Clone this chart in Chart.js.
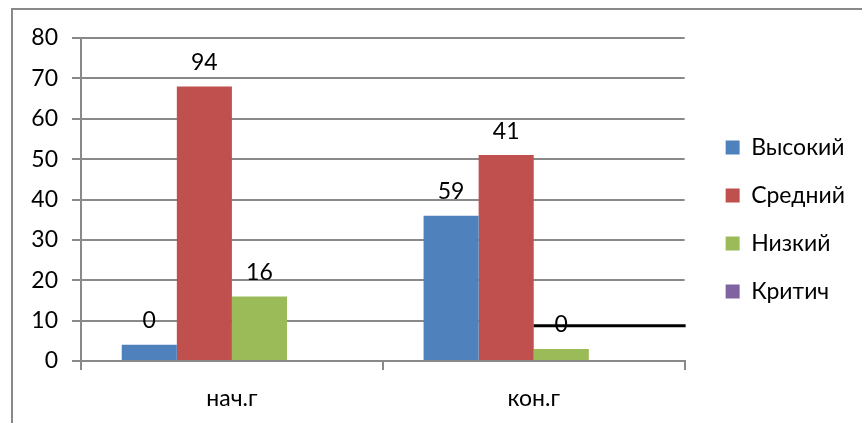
<!DOCTYPE html>
<html><head><meta charset="utf-8">
<script src="https://cdn.jsdelivr.net/npm/chart.js@4/dist/chart.umd.min.js"></script>
<style>html,body{margin:0;padding:0;background:#fff}#wrap{position:relative;width:862px;height:423px}canvas{display:block}</style>
</head><body><div id="wrap"><canvas id="c" width="862" height="423"></canvas></div>
<script>
// ---- data ----
const categories = ['нач.г', 'кон.г'];
const seriesNames = ['Высокий', 'Средний', 'Низкий', 'Критич'];
const highValues = [4, 36];
const midValues = [68, 51];
const lowValues = [16, 3];
const critValues = [0, 0];
const highLabels = ['0', '59'];
const midLabels = ['94', '41'];
const lowLabels = ['16', '0'];
const critLabels = ['', ''];
const yMin = 0, yMax = 80, yStep = 10;
const markerLineValue = 8.7;

const colors = ['#4F81BD', '#C0504D', '#9BBB59', '#8064A2'];
const valueSets = [highValues, midValues, lowValues, critValues];
const labelSets = [highLabels, midLabels, lowLabels, critLabels];
const FONT = 'Lato, "Open Sans", sans-serif';
const FS = 23;
const GRID = '#898989';

const framePlugin = {
  id: 'frame',
  beforeDraw(chart) {
    const ctx = chart.ctx;
    ctx.save();
    ctx.fillStyle = '#fff';
    ctx.fillRect(0, 0, chart.width, chart.height);
    ctx.strokeStyle = GRID;
    ctx.lineWidth = 2;
    ctx.beginPath();
    ctx.moveTo(12, chart.height + 2);
    ctx.lineTo(12, 9);
    ctx.lineTo(chart.width + 2, 9);
    ctx.stroke();
    ctx.restore();
  }
};

const legendShift = {
  id: 'legendShift',
  afterLayout(chart) {
    const lg = chart.legend;
    if (!lg) return;
    const dx = 16, dy = -11;
    lg.left += dx; lg.right += dx; lg.top += dy; lg.bottom += dy;
  }
};

const labelPlugin = {
  id: 'barLabels',
  afterDatasetsDraw(chart) {
    const ctx = chart.ctx;
    const y = chart.scales.y;
    const area = chart.chartArea;
    const redBar = chart.getDatasetMeta(1).data[1];
    const x0 = redBar.x + redBar.width / 2;
    ctx.save();
    const yg = Math.round(y.getPixelForValue(10));
    ctx.strokeStyle = '#fff';
    ctx.lineWidth = 3;
    ctx.beginPath(); ctx.moveTo(x0, yg); ctx.lineTo(area.right + 2, yg); ctx.stroke();
    const ym = y.getPixelForValue(markerLineValue);
    ctx.strokeStyle = '#000';
    ctx.lineWidth = 3;
    ctx.beginPath(); ctx.moveTo(x0, ym); ctx.lineTo(area.right + 1, ym); ctx.stroke();

    ctx.fillStyle = '#000';
    ctx.font = FS + 'px ' + FONT;
    ctx.textAlign = 'center';
    ctx.textBaseline = 'middle';
    chart.data.datasets.forEach((ds, i) => {
      const meta = chart.getDatasetMeta(i);
      meta.data.forEach((bar, j) => {
        const t = labelSets[i][j];
        if (t) ctx.fillText(t, bar.x, bar.y - 24);
      });
    });
    ctx.restore();
  }
};

new Chart(document.getElementById('c'), {
  type: 'bar',
  data: {
    labels: categories,
    datasets: seriesNames.map((n, i) => ({
      label: n,
      data: valueSets[i],
      backgroundColor: colors[i],
      borderWidth: 0,
      categoryPercentage: 0.73,
      barPercentage: 1.0
    }))
  },
  options: {
    responsive: false,
    animation: false,
    devicePixelRatio: 1,
    layout: { padding: { top: 38, bottom: 0, left: 0, right: 23 } },
    plugins: {
      tooltip: { enabled: false },
      legend: {
        position: 'right',
        labels: {
          boxWidth: 14, boxHeight: 14, padding: 25,
          color: '#000',
          font: { family: FONT, size: FS }
        }
      }
    },
    scales: {
      x: {
        grid: { offset: true, drawOnChartArea: false, drawTicks: true, tickLength: 9, color: GRID, lineWidth: 2 },
        border: { display: true, color: GRID, width: 2 },
        ticks: { color: '#000', font: { family: FONT, size: FS }, padding: 15 },
        afterFit(scale) { scale.height = 62; }
      },
      y: {
        min: yMin, max: yMax,
        ticks: { stepSize: yStep, color: '#000', font: { family: FONT, size: FS }, padding: 14 },
        grid: { color: GRID, lineWidth: 2, tickLength: 9, drawTicks: true },
        border: { display: true, color: GRID, width: 2 },
        afterFit(scale) { scale.width = 81; }
      }
    }
  },
  plugins: [framePlugin, legendShift, labelPlugin]
});
</script>
</body></html>
